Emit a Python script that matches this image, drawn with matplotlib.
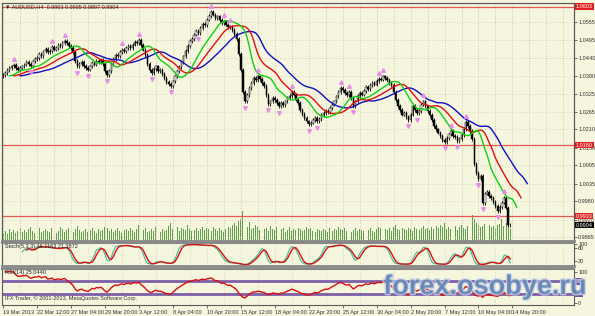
import matplotlib
matplotlib.use('Agg')
import matplotlib.pyplot as plt
import matplotlib.patheffects as pe
from matplotlib.transforms import blended_transform_factory
import numpy as np
import pandas as pd

plt.rcParams['font.family'] = ['Liberation Sans', 'DejaVu Sans']

# H4 closes, AUDUSD
closes = [
    1.0384, 1.0392, 1.0400, 1.0406, 1.0412, 1.0416, 1.0406, 1.0400, 1.0406, 1.0412,
    1.0418, 1.0425, 1.0420, 1.0414, 1.0428, 1.0436, 1.0440, 1.0452, 1.0446, 1.0460,
    1.0468, 1.0458, 1.0462, 1.0474, 1.0466, 1.0470, 1.0480, 1.0476, 1.0488, 1.0494,
    1.0486, 1.0478, 1.0470, 1.0458, 1.0430, 1.0412, 1.0420, 1.0426, 1.0414, 1.0408,
    1.0402, 1.0412, 1.0424, 1.0418, 1.0430, 1.0426, 1.0432, 1.0420, 1.0396, 1.0384,
    1.0398, 1.0420, 1.0436, 1.0450, 1.0444, 1.0458, 1.0466, 1.0460, 1.0472, 1.0478,
    1.0470, 1.0482, 1.0490, 1.0486, 1.0496, 1.0480, 1.0466, 1.0448, 1.0420, 1.0400,
    1.0392, 1.0404, 1.0412, 1.0398, 1.0400, 1.0388, 1.0376, 1.0362, 1.0356, 1.0350,
    1.0364, 1.0380, 1.0396, 1.0410, 1.0426, 1.0444, 1.0462, 1.0478, 1.0494, 1.0500,
    1.0514, 1.0526, 1.0520, 1.0536, 1.0548, 1.0544, 1.0562, 1.0574, 1.0586, 1.0578,
    1.0566, 1.0572, 1.0560, 1.0550, 1.0556, 1.0546, 1.0538, 1.0540, 1.0528, 1.0516,
    1.0500, 1.0452, 1.0400, 1.0330, 1.0300, 1.0320, 1.0342, 1.0360, 1.0374, 1.0368,
    1.0380, 1.0372, 1.0360, 1.0350, 1.0320, 1.0292, 1.0300, 1.0312, 1.0304, 1.0296,
    1.0284, 1.0296, 1.0288, 1.0300, 1.0310, 1.0318, 1.0330, 1.0322, 1.0306, 1.0296,
    1.0272, 1.0260, 1.0248, 1.0236, 1.0226, 1.0232, 1.0240, 1.0248, 1.0236, 1.0244,
    1.0256, 1.0262, 1.0270, 1.0266, 1.0278, 1.0290, 1.0300, 1.0316, 1.0330, 1.0342,
    1.0336, 1.0326, 1.0320, 1.0330, 1.0310, 1.0286, 1.0300, 1.0318, 1.0326, 1.0322,
    1.0334, 1.0346, 1.0340, 1.0352, 1.0360, 1.0354, 1.0366, 1.0372, 1.0370, 1.0380,
    1.0374, 1.0368, 1.0360, 1.0352, 1.0330, 1.0304, 1.0286, 1.0272, 1.0258, 1.0262,
    1.0250, 1.0240, 1.0258, 1.0286, 1.0272, 1.0262, 1.0270, 1.0290, 1.0300, 1.0284,
    1.0270, 1.0256, 1.0240, 1.0222, 1.0210, 1.0200, 1.0190, 1.0176, 1.0170, 1.0182,
    1.0194, 1.0204, 1.0190, 1.0186, 1.0174, 1.0180, 1.0192, 1.0210, 1.0234, 1.0222,
    1.0206, 1.0180, 1.0100, 1.0070, 1.0052, 1.0060, 0.9975, 1.0005, 1.0010, 0.9996,
    0.9990, 0.9978, 0.9966, 0.9950, 0.9962, 0.9976, 0.9992, 0.9960, 0.9903, 0.9904,
]
first_open = 1.0380

volumes = [
    8, 10, 7, 12, 9, 11, 8, 10, 13, 9,
    11, 9, 12, 14, 10, 8, 11, 13, 9, 10,
    12, 10, 9, 13, 11, 8, 10, 14, 12, 9,
    11, 13, 10, 9, 12, 15, 11, 9, 10, 12,
    9, 11, 13, 10, 8, 12, 10, 11, 14, 13,
    10, 12, 9, 11, 13, 10, 8, 11, 12, 10,
    13, 11, 9, 12, 16, 10, 11, 13, 9, 10,
    12, 10, 14, 11, 9, 12, 10, 11, 15, 18,
    12, 11, 14, 10, 13, 12, 11, 16, 12, 10,
    11, 13, 10, 12, 14, 11, 13, 12, 10, 14,
    12, 10, 13, 11, 9, 12, 14, 13, 16, 18,
    15, 20, 22, 30, 17, 14, 19, 12, 13, 16,
    14, 11, 18, 12, 13, 10, 15, 12, 11, 14,
    10, 12, 13, 9, 11, 14, 10, 12, 11, 13,
    12, 10, 11, 14, 12, 13, 10, 9, 12, 11,
    10, 12, 11, 9, 13, 10, 12, 11, 14, 12,
    11, 13, 10, 12, 9, 11, 13, 10, 12, 11,
    10, 12, 11, 13, 10, 9, 12, 14, 13, 15,
    12, 11, 13, 10, 14, 16, 12, 11, 13, 12,
    11, 13, 12, 10, 14, 12, 11, 13, 15, 12,
    13, 11, 14, 12, 15, 13, 16, 14, 18, 12,
    14, 12, 13, 15, 11, 14, 16, 13, 12, 15,
    17, 26, 22, 18, 16, 14, 15, 17, 13, 16,
    14, 15, 13, 16, 17, 22, 15, 18, 21, 12,
]

fractal_up = [5, 23, 29, 56, 64, 98, 104, 107, 120, 136, 159, 163, 177, 179, 198, 211, 218, 236]
fractal_down = [13, 35, 40, 49, 70, 79, 92, 114, 125, 130, 144, 148, 165, 191, 195, 208, 214, 224, 226, 233]

time_labels = ['19 Mar 2013', '22 Mar 12:00', '27 Mar 04:00', '29 Mar 20:00', '3 Apr 12:00',
               '8 Apr 04:00', '10 Apr 20:00', '15 Apr 12:00', '18 Apr 04:00', '22 Apr 20:00',
               '25 Apr 12:00', '30 Apr 04:00', '2 May 20:00', '7 May 12:00', '10 May 04:00',
               '14 May 20:00']
price_ticks = [1.0555, 1.0495, 1.0440, 1.0380, 1.0325, 1.0265, 1.0210, 1.0150,
               1.0095, 1.0035, 0.9980, 0.9920, 0.9865]
red_levels = [1.0603, 1.0160, 0.9933]
bid = 0.9904

BG = '#f6f5de'
GRID = '#cfcdb5'
W, H = 595, 316
FS = 4.0

# ohlc
c = np.array(closes)
o = np.concatenate([[first_open], c[:-1]])
wick = 0.0006
hi = np.maximum(o, c) + wick
lo = np.minimum(o, c) - wick
idx = np.arange(len(c))

# indicators
med = pd.Series((hi + lo) / 2)
jaw = med.ewm(alpha=1 / 13, adjust=False).mean()
teeth = med.ewm(alpha=1 / 8, adjust=False).mean()
lips = med.ewm(alpha=1 / 5, adjust=False).mean()

cs, hs, ls = pd.Series(c), pd.Series(hi), pd.Series(lo)
ll = ls.rolling(8).min()
hh = hs.rolling(8).max()
k = 100 * (cs - ll).rolling(3).sum() / (hh - ll).rolling(3).sum()
sig = k.rolling(3).mean()

d = cs.diff()
up = d.clip(lower=0).ewm(alpha=1 / 14, adjust=False).mean()
dn = (-d.clip(upper=0)).ewm(alpha=1 / 14, adjust=False).mean()
rsi = 100 - 100 / (1 + up / dn)

fig = plt.figure(figsize=(W / 100, H / 100), dpi=100, facecolor=BG)


def rect(y0, y1):
    return [2 / W, 1 - y1 / H, 572 / W, (y1 - y0) / H]


axv = fig.add_axes(rect(3, 241), facecolor=BG)
ax = fig.add_axes(rect(3, 241), facecolor='none')
ax_st = fig.add_axes(rect(243, 266), facecolor=BG)
ax_rsi = fig.add_axes(rect(269, 305), facecolor=BG)

xmax = 269
for a in (axv, ax, ax_st, ax_rsi):
    a.set_xlim(-0.5, xmax)
    a.set_xticks(np.arange(0, xmax, 8), minor=True)
    a.tick_params(which='minor', length=0)
    a.grid(which='minor', axis='x', color=GRID, ls=(0, (1, 2)), lw=0.6)
    for s in a.spines.values():
        s.set_color('#5a5a5a')
        s.set_linewidth(0.8)

# volumes
axv.bar(idx, volumes, width=0.45, color='#5f9f4c')
axv.set_ylim(0, 238)
axv.set_yticks([])
axv.set_xticks([])
axv.grid(False)

# main price panel
ax.set_ylim(0.9853, 1.0615)
ax.yaxis.tick_right()
ax.set_yticks(price_ticks)
ax.set_yticklabels([f'{p:.4f}' for p in price_ticks])
ax.tick_params(axis='y', labelsize=FS, length=2, pad=1, colors='#333333', width=0.5)
ax.set_xticks([])
ax.grid(which='major', axis='y', color=GRID, ls=(0, (1, 2)), lw=0.6)
ax.spines['bottom'].set_color('#888888')
ax.spines['bottom'].set_linewidth(2)

for lv in red_levels:
    ax.axhline(lv, color='#e05a50', lw=0.9, zorder=2)

# candles
ax.vlines(idx, lo, hi, color='black', lw=0.6, zorder=3)
bull = c >= o
ax.bar(idx[bull], (c - o)[bull], bottom=o[bull], width=0.7, color='white',
       edgecolor='black', lw=0.35, zorder=4)
ax.bar(idx[~bull], (o - c)[~bull], bottom=c[~bull], width=0.7, color='black',
       edgecolor='black', lw=0.35, zorder=4)

# alligator
ax.plot(idx + 8, jaw, color='#1010c0', lw=1.0, zorder=5)
ax.plot(idx + 5, teeth, color='#e01010', lw=1.0, zorder=5)
ax.plot(idx + 3, lips, color='#10d010', lw=1.0, zorder=5)

# fractals
fu = np.array(fractal_up)
fd = np.array(fractal_down)
ax.plot(fu, hi[fu] + 0.0014, ls='none', marker='^', ms=2.6, color='#e68ce9', zorder=6)
ax.plot(fd, lo[fd] - 0.0014, ls='none', marker='v', ms=2.6, color='#e68ce9', zorder=6)

tr = blended_transform_factory(ax.transAxes, ax.transData)
for lv in red_levels:
    ax.text(1.003, lv, f'{lv:.4f}', transform=tr, fontsize=FS, color='white',
            va='center', ha='left', zorder=10,
            bbox=dict(boxstyle='square,pad=0.15', fc='#e02020', ec='none'))
ax.text(1.003, bid, f'{bid:.4f}', transform=tr, fontsize=FS, color='white',
        va='center', ha='left', zorder=10,
        bbox=dict(boxstyle='square,pad=0.15', fc='black', ec='none'))

ax.text(0.006, 0.995, '\u25bc AUDUSD,H4  0.9903 0.9905 0.9897 0.9904',
        transform=ax.transAxes, fontsize=FS, color='#222222', va='top', ha='left', zorder=10)

# stochastic
ax_st.plot(idx, k, color='#3cbf9c', lw=0.8)
ax_st.plot(idx, sig, color='#d81010', lw=1.0)
ax_st.set_ylim(-3, 103)
ax_st.yaxis.tick_right()
ax_st.set_yticks([100, 80, 20])
ax_st.set_yticklabels(['100', '80', '20'])
ax_st.tick_params(axis='y', labelsize=FS, length=2, pad=1, colors='#333333', width=0.5)
ax_st.set_xticks([])
ax_st.spines['bottom'].set_color('#888888')
ax_st.spines['bottom'].set_linewidth(2)
ax_st.spines['top'].set_color('#888888')
ax_st.spines['top'].set_linewidth(1.5)
ax_st.text(0.006, 0.97, 'Stoch(5,3,3) 16.1163 21.3872', transform=ax_st.transAxes,
           fontsize=FS, color='#222222', va='top', ha='left')

# rsi
ax_rsi.axhline(70, color='#7c5fa8', lw=2, zorder=2)
ax_rsi.axhline(30, color='#7c5fa8', lw=2, zorder=2)
ax_rsi.plot(idx, rsi, color='#d81010', lw=1.0, zorder=3)
ax_rsi.set_ylim(-6, 109)
ax_rsi.yaxis.tick_right()
ax_rsi.set_yticks([100, 0])
ax_rsi.tick_params(axis='y', labelsize=FS, length=2, pad=1, colors='#333333', width=0.5)
tr2 = blended_transform_factory(ax_rsi.transAxes, ax_rsi.transData)
for lv in (70, 30):
    ax_rsi.text(1.003, lv, str(lv), transform=tr2, fontsize=FS, color='white',
                va='center', ha='left',
                bbox=dict(boxstyle='square,pad=0.15', fc='#6a4fa0', ec='none'))
ax_rsi.spines['top'].set_color('#888888')
ax_rsi.spines['top'].set_linewidth(1.5)
ax_rsi.text(0.006, 0.97, 'RSI(14) 25.0440', transform=ax_rsi.transAxes,
            fontsize=FS, color='#222222', va='top', ha='left')
ax_rsi.text(0.006, 0.2, 'IFX Trader, \u00a9 2001-2013, MetaQuotes Software Corp.',
            transform=ax_rsi.transAxes, fontsize=FS, color='#333333', va='center', ha='left')

ax_rsi.set_xticks(np.arange(len(time_labels)) * 16)
ax_rsi.set_xticklabels(time_labels)
ax_rsi.tick_params(axis='x', labelsize=FS, length=2, pad=1.5, colors='#333333', width=0.5)
for lab in ax_rsi.get_xticklabels():
    lab.set_ha('left')

# watermark
fig.text(485 / W, 1 - 287 / H, 'forex.osobye.ru', fontsize=19.5, fontweight='bold',
         color='#5d7fb3', alpha=0.8, ha='center', va='center',
         path_effects=[pe.withStroke(linewidth=2, foreground='#c8d4e6')])

fig.savefig('out.png', dpi=100, facecolor=BG)
